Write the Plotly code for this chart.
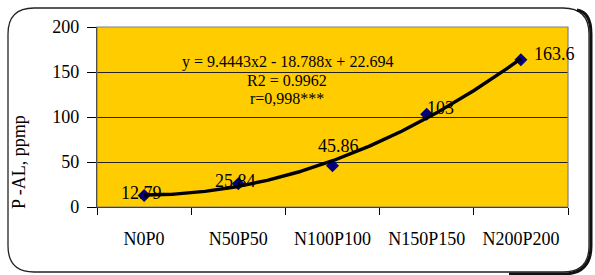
import numpy as np
import plotly.graph_objects as go

categories = ["N0P0", "N50P50", "N100P100", "N150P150", "N200P200"]
p_al = [12.79, 25.84, 45.86, 103, 163.6]
value_labels = ["12.79", "25.84", "45.86", "103", "163.6"]
# trendline coefficients shown on the chart: y = a x^2 + b x + c
coef_a, coef_b, coef_c = 9.4443, -18.788, 22.694
eq_lines = ["y = 9.4443x2 - 18.788x + 22.694", "R2 = 0.9962", "r=0,998***"]
y_ticks = [0, 50, 100, 150, 200]

W, H = 595, 275
L, R, T, B = 97, 27, 27, 68
PW, PH = W - L - R, H - T - B

def px(xp):
    return (xp - L) / PW

def py(yp):
    return (H - B - yp) / PH

FONT = "Liberation Serif"

fig = go.Figure()

xs = np.linspace(1, len(categories), 200)
ys = coef_a * xs**2 + coef_b * xs + coef_c
fig.add_trace(go.Scatter(x=xs, y=ys, xaxis="x2", mode="lines",
                         line=dict(color="black", width=3.4), hoverinfo="skip",
                         showlegend=False))
fig.add_trace(go.Scatter(x=categories, y=p_al, mode="markers",
                         marker=dict(symbol="diamond", size=10, color="#000080"),
                         showlegend=False))

# data labels (offsets in pixels)
offs = [(-3, 2), (-3, 3), (6, 20), (14, 6), (34, 6)]
for c, v, t, (dx, dy) in zip(categories, p_al, value_labels, offs):
    fig.add_annotation(x=c, y=v, text=t, showarrow=False, xshift=dx, yshift=dy,
                       font=dict(family=FONT, size=18, color="black"))

for i, (line, yp) in enumerate(zip(eq_lines, [62, 80, 98])):
    fig.add_annotation(xref="paper", yref="paper", x=px(287), y=py(yp), text=line,
                       showarrow=False, xanchor="center", yanchor="middle",
                       font=dict(family=FONT, size=16, color="black"))

fig.add_annotation(xref="paper", yref="paper", x=px(19), y=py(162), text="P -AL, ppmp",
                   showarrow=False, textangle=-90, xanchor="center", yanchor="middle",
                   font=dict(family=FONT, size=18, color="black"))

# plot area border (gray)
fig.add_shape(type="rect", xref="paper", yref="paper", x0=0, y0=0, x1=1, y1=1,
              line=dict(color="#808080", width=1.2), layer="above")

# rounded outer frame
l, r, t, b, rad = 8, 589, 8, 272, 26
def P(xp, yp):
    return f"{px(xp):.5f},{py(yp):.5f}"
path = (f"M {P(l+rad, t)} L {P(r-rad, t)} Q {P(r, t)} {P(r, t+rad)} "
        f"L {P(r, b-rad)} Q {P(r, b)} {P(r-rad, b)} L {P(l+rad, b)} "
        f"Q {P(l, b)} {P(l, b-rad)} L {P(l, t+rad)} Q {P(l, t)} {P(l+rad, t)} Z")
fig.add_shape(type="path", xref="paper", yref="paper", path=path,
              line=dict(color="#222", width=1.3))
shadow = (f"M {P(r-12, t+2)} Q {P(r+2, t+4)} {P(r+2, t+rad)} L {P(r+2, b-rad)} "
          f"Q {P(r+2, b+2)} {P(r-rad, b+2)} L {P(r-80, b+2)}")
fig.add_shape(type="path", xref="paper", yref="paper", path=shadow,
              line=dict(color="#111", width=3))

fig.update_layout(
    width=W, height=H,
    margin=dict(l=L, r=R, t=T, b=B),
    paper_bgcolor="white",
    plot_bgcolor="#FFCC00",
    font=dict(family=FONT, size=18, color="black"),
    xaxis=dict(type="category", range=[-0.5, len(categories) - 0.5],
               tickson="boundaries", ticks="outside", ticklen=7, tickcolor="black",
               showgrid=False, showline=True, linecolor="black", linewidth=1.2,
               tickfont=dict(family=FONT, size=18), ticklabelstandoff=15,
               fixedrange=True),
    xaxis2=dict(overlaying="x", range=[0.5, len(categories) + 0.5], visible=False,
                fixedrange=True),
    yaxis=dict(range=[0, 200], tickvals=y_ticks, ticks="outside", ticklen=9,
               tickcolor="black", showline=True, linecolor="black", linewidth=1.2,
               showgrid=True, gridcolor="#222", gridwidth=1, zeroline=False,
               tickfont=dict(family=FONT, size=18), ticklabelstandoff=4,
               fixedrange=True),
)

fig.write_html("out.html", config={"displayModeBar": False},
               post_script="document.body.style.margin='0';")
